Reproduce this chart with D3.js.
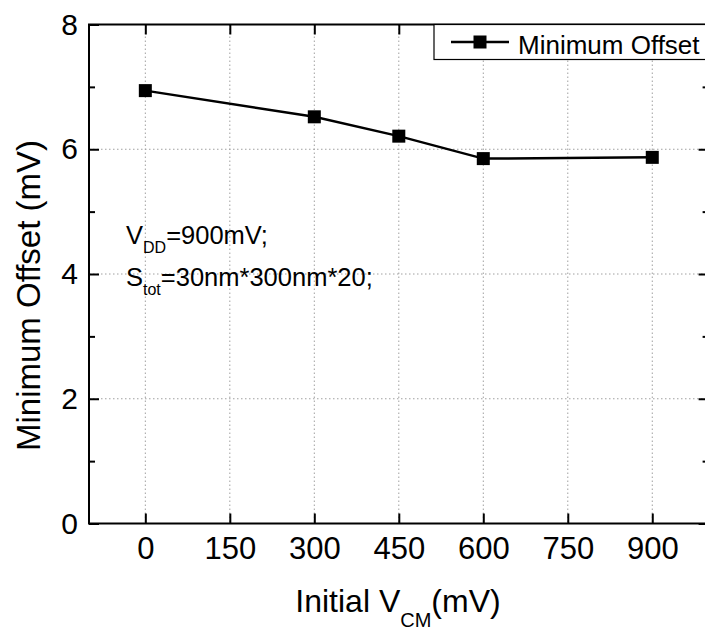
<!DOCTYPE html>
<html>
<head>
<meta charset="utf-8">
<script src="https://cdn.jsdelivr.net/npm/d3@7"></script>
<style>
  html, body { margin: 0; padding: 0; background: #fff; }
  svg { display: block; font-family: "Liberation Sans", Arial, sans-serif; }
</style>
</head>
<body>
<svg id="chart" width="705" height="632"></svg>
<script>
// Initial common-mode voltage (mV) and the resulting minimum offset (mV)
const vcm = [0, 300, 450, 600, 900];
const minOffset = [6.94, 6.52, 6.21, 5.85, 5.87];
const xTicks = [0, 150, 300, 450, 600, 750, 900];
const yTicks = [0, 2, 4, 6, 8];
const yMinorTicks = [1, 3, 5, 7];
const seriesName = "Minimum Offset";

const svg = d3.select("#chart");

const x = d3.scaleLinear().domain([-100, 1000]).range([89, 708.6]);
const y = d3.scaleLinear().domain([0, 8]).range([523.5, 24.5]);

const plotLeft = x.range()[0], plotRight = x.range()[1];
const plotTop = y.range()[1], plotBottom = y.range()[0];

// dotted grid at the major ticks
const grid = svg.append("g")
  .attr("stroke", "#a0a0a0")
  .attr("stroke-width", 1)
  .attr("stroke-dasharray", "1.5,2.5");
grid.selectAll("line.v").data(xTicks).join("line")
  .attr("class", "v")
  .attr("x1", d => x(d)).attr("x2", d => x(d))
  .attr("y1", plotTop).attr("y2", plotBottom);
grid.selectAll("line.h").data(yTicks.filter(d => d > 0 && d < 8)).join("line")
  .attr("class", "h")
  .attr("x1", plotLeft).attr("x2", plotRight)
  .attr("y1", d => y(d)).attr("y2", d => y(d));

// axes with inward ticks on all four sides
const bottomAxis = d3.axisBottom(x).tickValues(xTicks).tickSize(-10).tickPadding(13.5);
const topAxis = d3.axisTop(x).tickValues(xTicks).tickSize(-10).tickFormat("");
const leftAxis = d3.axisLeft(y).tickValues(yTicks).tickSize(-10).tickPadding(11).tickFormat(d3.format("d"));
const rightAxis = d3.axisRight(y).tickValues(yTicks).tickSize(-10).tickFormat("");
const leftMinor = d3.axisLeft(y).tickValues(yMinorTicks).tickSize(-6).tickFormat("");
const rightMinor = d3.axisRight(y).tickValues(yMinorTicks).tickSize(-6).tickFormat("");

function style(g) {
  g.select(".domain").remove();
  g.selectAll(".tick line").attr("stroke", "#000").attr("stroke-width", 2);
  g.selectAll(".tick text").attr("fill", "#000").attr("font-family", "'Liberation Sans', Arial, sans-serif");
}

svg.append("g").attr("transform", `translate(0,${plotBottom})`).call(bottomAxis).call(style)
  .selectAll(".tick text").attr("font-size", 31);
svg.append("g").attr("transform", `translate(0,${plotTop})`).call(topAxis).call(style);
svg.append("g").attr("transform", `translate(${plotLeft},0)`).call(leftAxis).call(style)
  .selectAll(".tick text").attr("font-size", 30);
svg.append("g").attr("transform", `translate(${plotRight},0)`).call(rightAxis).call(style);
svg.append("g").attr("transform", `translate(${plotLeft},0)`).call(leftMinor).call(style);
svg.append("g").attr("transform", `translate(${plotRight},0)`).call(rightMinor).call(style);

// frame
svg.append("rect")
  .attr("x", plotLeft).attr("y", plotTop)
  .attr("width", plotRight - plotLeft).attr("height", plotBottom - plotTop)
  .attr("fill", "none").attr("stroke", "#000").attr("stroke-width", 2);

// data line and square markers
const pts = vcm.map((v, i) => [v, minOffset[i]]);
svg.append("path")
  .datum(pts)
  .attr("fill", "none").attr("stroke", "#000").attr("stroke-width", 2.5)
  .attr("d", d3.line().x(d => x(d[0])).y(d => y(d[1])));
const ms = 13;
svg.selectAll("rect.marker").data(pts).join("rect")
  .attr("class", "marker")
  .attr("x", d => x(d[0]) - ms / 2).attr("y", d => y(d[1]) - ms / 2)
  .attr("width", ms).attr("height", ms).attr("fill", "#000");

// legend
const lg = svg.append("g");
lg.append("rect")
  .attr("x", 434).attr("y", plotTop).attr("width", plotRight - 434).attr("height", 35)
  .attr("fill", "#fff").attr("stroke", "#000").attr("stroke-width", 1.2);
lg.append("line")
  .attr("x1", 451).attr("x2", 509).attr("y1", plotTop + 17.5).attr("y2", plotTop + 17.5)
  .attr("stroke", "#000").attr("stroke-width", 2.5);
lg.append("rect")
  .attr("x", 480 - ms / 2).attr("y", plotTop + 17.5 - ms / 2)
  .attr("width", ms).attr("height", ms).attr("fill", "#000");
lg.append("text")
  .attr("x", 518).attr("y", 53.5)
  .attr("font-size", 26).attr("fill", "#000")
  .text(seriesName);

// annotation
const note = svg.append("g").attr("font-size", 25.5).attr("fill", "#000");
const t1 = note.append("text").attr("x", 126).attr("y", 243.5);
t1.append("tspan").text("V");
t1.append("tspan").attr("font-size", 16).attr("dy", 9.5).text("DD");
t1.append("tspan").attr("dy", -9.5).text("=900mV;");
const t2 = note.append("text").attr("x", 126).attr("y", 285.5);
t2.append("tspan").text("S");
t2.append("tspan").attr("font-size", 16).attr("dy", 9.5).text("tot");
t2.append("tspan").attr("dy", -9.5).text("=30nm*300nm*20;");

// axis titles
const xt = svg.append("text")
  .attr("x", 398).attr("y", 612).attr("text-anchor", "middle")
  .attr("font-size", 32).attr("fill", "#000");
xt.append("tspan").text("Initial V");
xt.append("tspan").attr("font-size", 20).attr("dy", 15).text("CM");
xt.append("tspan").attr("dy", -15).text("(mV)");

svg.append("text")
  .attr("transform", "translate(40,295.5) rotate(-90)")
  .attr("text-anchor", "middle")
  .attr("font-size", 33).attr("fill", "#000")
  .text("Minimum Offset (mV)");
</script>
</body>
</html>
